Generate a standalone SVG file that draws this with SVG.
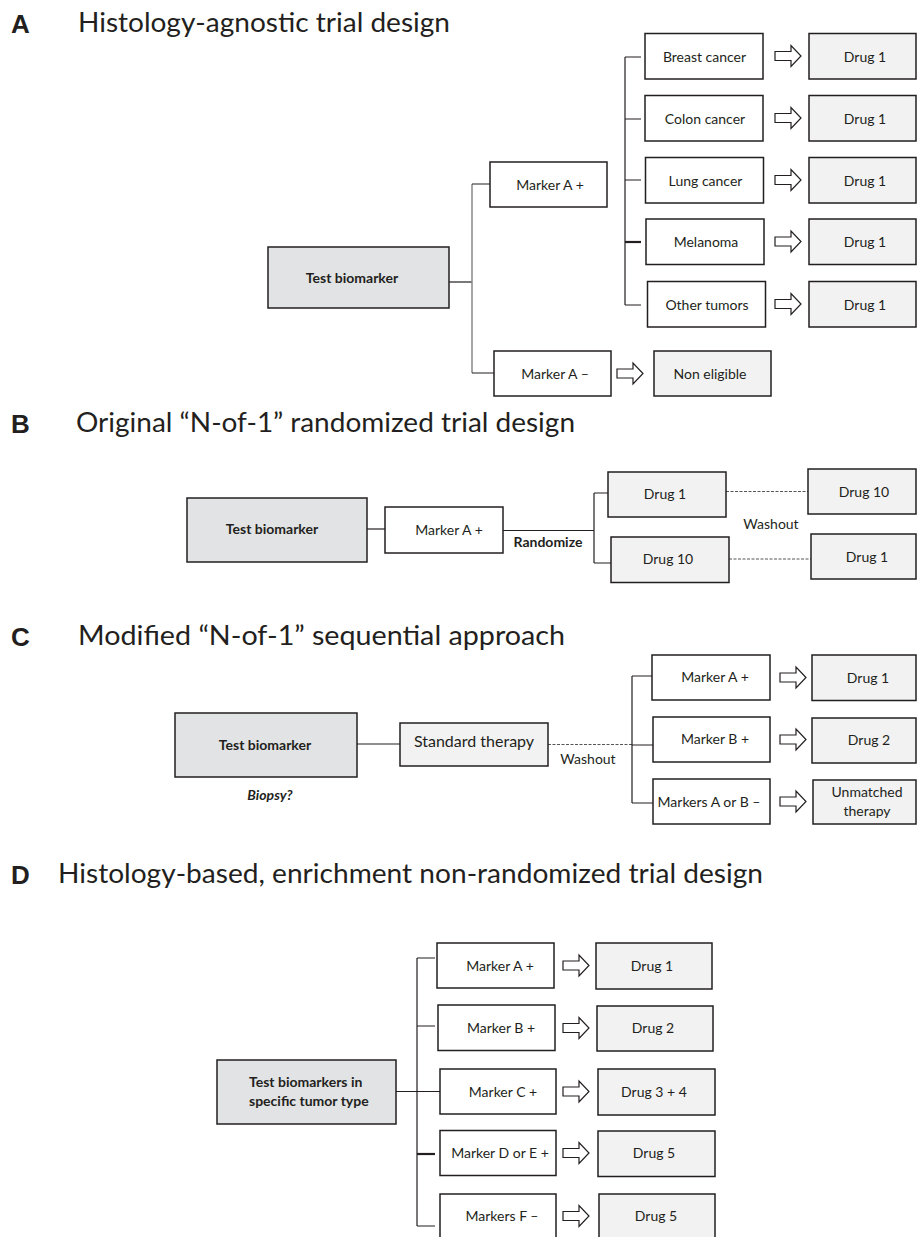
<svg xmlns="http://www.w3.org/2000/svg" xmlns:xlink="http://www.w3.org/1999/xlink" width="917" height="1237" viewBox="0 0 917 1237">
<style>
.lbl{font-family:"Liberation Sans",Arial,sans-serif;font-weight:bold;font-size:26px;fill:#231f20}
.ttl{font-family:Lato,"Open Sans",sans-serif;font-size:27px;fill:#231f20}
.t{font-family:Lato,"Open Sans",sans-serif;font-size:14px;fill:#231f20;text-anchor:middle}
.tb{font-family:Lato,"Open Sans",sans-serif;font-size:14px;font-weight:bold;fill:#231f20;text-anchor:middle}
.big{font-size:16px}
.test{fill:#e2e3e5;stroke:#231f20;stroke-width:1.5}
.mk{fill:#ffffff;stroke:#231f20;stroke-width:1.5}
.drug{fill:#f2f2f2;stroke:#231f20;stroke-width:1.5}
.ln{stroke:#231f20;stroke-width:1.2;fill:none}
.lg{stroke:#808080;stroke-width:1.4;fill:none}
.dash{stroke:#555;stroke-width:1;stroke-dasharray:3 1.5;fill:none}
.thick{stroke-width:2.2}
</style>
<defs>
<path id="arr" d="M0,-4.5 H16 V-10.5 L26,0 L16,10.5 V4.5 H0 Z" fill="#ffffff" stroke="#231f20" stroke-width="1.2"/>
</defs>

<!-- Titles -->
<g id="titles">
<text class="lbl" x="11" y="33">A</text>
<text class="ttl" x="78" y="32" textLength="372" lengthAdjust="spacingAndGlyphs">Histology-agnostic trial design</text>
<text class="lbl" x="11" y="433">B</text>
<text class="ttl" x="76" y="432" textLength="499" lengthAdjust="spacingAndGlyphs">Original “N-of-1” randomized trial design</text>
<text class="lbl" x="11" y="646">C</text>
<text class="ttl" x="78" y="645" textLength="487" lengthAdjust="spacingAndGlyphs">Modified “N-of-1” sequential approach</text>
<text class="lbl" x="11" y="884">D</text>
<text class="ttl" x="58" y="883" textLength="705" lengthAdjust="spacingAndGlyphs">Histology-based, enrichment non-randomized trial design</text>
</g>

<!-- Connectors -->
<g id="connectors">
<!-- A -->
<path class="ln" d="M449,282 H472"/>
<path class="lg" d="M472,184 V373"/>
<path class="ln" d="M472,184 H490 M472,373 H494"/>
<path class="ln" d="M625,57 V305 M625,57 H641 M625,119 H641 M625,180 H641 M625,305 H641"/>
<path class="ln thick" d="M625,242 H641"/>
<use xlink:href="#arr" x="775" y="56"/>
<use xlink:href="#arr" x="775" y="118"/>
<use xlink:href="#arr" x="775" y="180"/>
<use xlink:href="#arr" x="775" y="241.5"/>
<use xlink:href="#arr" x="775" y="304"/>
<use xlink:href="#arr" x="617" y="373.5"/>
<!-- B -->
<path class="ln" d="M367,529 H385"/>
<path class="ln" d="M503,530.5 H594 M594,493 V563 M594,493 H608 M594,563 H611"/>
<path class="dash" d="M726,491.5 H808 M729,559 H811"/>
<!-- C -->
<path class="ln" d="M357,744 H400"/>
<path class="dash" d="M548,744.5 H632"/>
<path class="ln" d="M632,676 V803 M632,676 H652 M632,745 H653 M632,803 H653"/>
<use xlink:href="#arr" x="780" y="677.5"/>
<use xlink:href="#arr" x="780" y="739.5"/>
<use xlink:href="#arr" x="780" y="801.5"/>
<!-- D -->
<path class="ln" d="M396,1091.5 H440"/>
<path class="ln" d="M417,958 V1226 M417,958 H435 M417,1026 H435 M417,1226 H435"/>
<path class="ln thick" d="M417,1154 H435"/>
<use xlink:href="#arr" x="563" y="965.5"/>
<use xlink:href="#arr" x="563" y="1028"/>
<use xlink:href="#arr" x="563" y="1091.5"/>
<use xlink:href="#arr" x="563" y="1153"/>
<use xlink:href="#arr" x="563" y="1216"/>
</g>

<!-- Section A nodes -->
<g id="A-test"><rect class="test" x="268" y="247" width="181" height="61"/><text class="tb" x="352" y="283">Test biomarker</text></g>
<g id="A-markerApos"><rect class="mk" x="490" y="162" width="117" height="45"/><text class="t" x="550" y="190">Marker A +</text></g>
<g id="A-markerAneg"><rect class="mk" x="494" y="351" width="117" height="45"/><text class="t" x="555" y="379">Marker A –</text></g>
<g id="A-breast"><rect class="mk" x="645" y="33.5" width="118" height="45.5"/><text class="t" x="704.5" y="61.5">Breast cancer</text></g>
<g id="A-colon"><rect class="mk" x="645" y="95.5" width="118" height="45.5"/><text class="t" x="705" y="123.5">Colon cancer</text></g>
<g id="A-lung"><rect class="mk" x="645.5" y="157.5" width="118" height="45.5"/><text class="t" x="705.5" y="185.5">Lung cancer</text></g>
<g id="A-melanoma"><rect class="mk" x="646" y="219" width="118" height="45.5"/><text class="t" x="706" y="247">Melanoma</text></g>
<g id="A-other"><rect class="mk" x="647.5" y="281.5" width="118" height="45.5"/><text class="t" x="707" y="309.5">Other tumors</text></g>
<g id="A-drug1a"><rect class="drug" x="809" y="33.5" width="107" height="45.5"/><text class="t" x="865" y="61.5">Drug 1</text></g>
<g id="A-drug1b"><rect class="drug" x="809" y="95.5" width="107" height="45.5"/><text class="t" x="865" y="123.5">Drug 1</text></g>
<g id="A-drug1c"><rect class="drug" x="809" y="157.5" width="107" height="45.5"/><text class="t" x="865" y="185.5">Drug 1</text></g>
<g id="A-drug1d"><rect class="drug" x="809" y="219" width="107" height="45.5"/><text class="t" x="865" y="247">Drug 1</text></g>
<g id="A-drug1e"><rect class="drug" x="809" y="281.5" width="107" height="45.5"/><text class="t" x="865" y="309.5">Drug 1</text></g>
<g id="A-noneligible"><rect class="drug" x="654" y="351" width="117" height="45"/><text class="t" x="710" y="379">Non eligible</text></g>

<!-- Section B nodes -->
<g id="B-test"><rect class="test" x="187" y="498" width="180" height="64"/><text class="tb" x="272" y="534">Test biomarker</text></g>
<g id="B-markerApos"><rect class="mk" x="385" y="507" width="118" height="46"/><text class="t" x="449" y="535">Marker A +</text></g>
<text id="B-randomize" class="tb" x="548" y="547">Randomize</text>
<g id="B-drug1"><rect class="drug" x="608" y="472" width="118" height="45"/><text class="t" x="665" y="499">Drug 1</text></g>
<g id="B-drug10"><rect class="drug" x="611" y="537" width="118" height="45.5"/><text class="t" x="668" y="564">Drug 10</text></g>
<g id="B-drug10r"><rect class="drug" x="808" y="469" width="108" height="45"/><text class="t" x="864" y="497">Drug 10</text></g>
<g id="B-drug1r"><rect class="drug" x="811" y="534" width="105" height="45"/><text class="t" x="867" y="562">Drug 1</text></g>
<text id="B-washout" class="t" x="771" y="529">Washout</text>

<!-- Section C nodes -->
<g id="C-test"><rect class="test" x="175" y="713" width="182" height="64"/><text class="tb" x="265" y="750">Test biomarker</text></g>
<text id="C-biopsy" class="tb" x="270" y="800" font-style="italic">Biopsy?</text>
<g id="C-standard"><rect class="drug" x="400" y="723" width="148" height="43"/><text class="t big" x="474" y="747">Standard therapy</text></g>
<text id="C-washout" class="t" x="588" y="764">Washout</text>
<g id="C-markerApos"><rect class="mk" x="652" y="655" width="118" height="45"/><text class="t" x="715" y="682">Marker A +</text></g>
<g id="C-markerBpos"><rect class="mk" x="653" y="717" width="117" height="45"/><text class="t" x="715" y="744">Marker B +</text></g>
<g id="C-markersneg"><rect class="mk" x="653" y="779" width="117" height="45"/><text class="t" x="709" y="807">Markers A or B –</text></g>
<g id="C-drug1"><rect class="drug" x="812" y="655" width="104" height="45.5"/><text class="t" x="868" y="683">Drug 1</text></g>
<g id="C-drug2"><rect class="drug" x="812" y="718" width="104" height="45"/><text class="t" x="869" y="745">Drug 2</text></g>
<g id="C-unmatched"><rect class="drug" x="813" y="780" width="103" height="44"/><text class="t" x="867" y="797">Unmatched</text><text class="t" x="867" y="816">therapy</text></g>

<!-- Section D nodes -->
<g id="D-test"><rect class="test" x="217" y="1060" width="179" height="64"/><text class="tb" x="249" y="1087" style="text-anchor:start">Test biomarkers in</text><text class="tb" x="249" y="1105.5" style="text-anchor:start">specific tumor type</text></g>
<g id="D-markerA"><rect class="mk" x="437" y="943" width="117" height="45"/><text class="t" x="500" y="971">Marker A +</text></g>
<g id="D-markerB"><rect class="mk" x="438" y="1005" width="117" height="45.5"/><text class="t" x="501" y="1033">Marker B +</text></g>
<g id="D-markerC"><rect class="mk" x="440" y="1069" width="116" height="45"/><text class="t" x="503" y="1097">Marker C +</text></g>
<g id="D-markerDE"><rect class="mk" x="440" y="1130.5" width="116" height="45"/><text class="t" x="500" y="1158">Marker D or E +</text></g>
<g id="D-markerF"><rect class="mk" x="440" y="1194" width="116" height="45"/><text class="t" x="502" y="1221">Markers F –</text></g>
<g id="D-drug1"><rect class="drug" x="596" y="943" width="116" height="46"/><text class="t" x="652" y="971">Drug 1</text></g>
<g id="D-drug2"><rect class="drug" x="597" y="1006" width="116" height="45"/><text class="t" x="653" y="1033">Drug 2</text></g>
<g id="D-drug34"><rect class="drug" x="598" y="1069" width="117" height="46"/><text class="t" x="654" y="1097">Drug 3 + 4</text></g>
<g id="D-drug5a"><rect class="drug" x="598" y="1131" width="117" height="45.5"/><text class="t" x="654" y="1158">Drug 5</text></g>
<g id="D-drug5b"><rect class="drug" x="599" y="1194" width="116" height="45"/><text class="t" x="656" y="1221">Drug 5</text></g>
</svg>
